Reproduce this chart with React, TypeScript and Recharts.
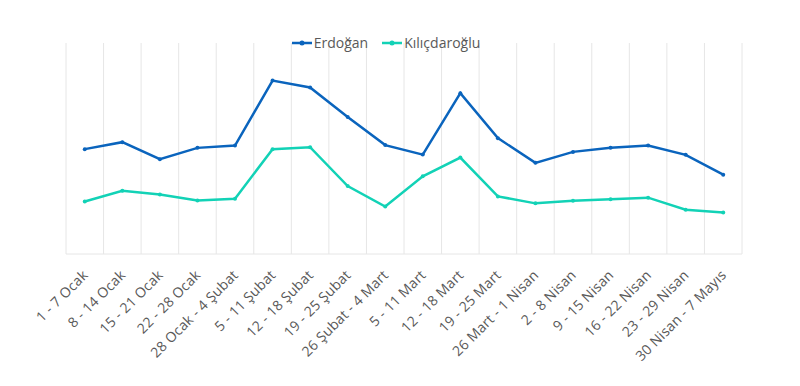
import { LineChart, Line, XAxis, YAxis, CartesianGrid, Legend } from "recharts";

const weeks = [
  "1 - 7 Ocak",
  "8 - 14 Ocak",
  "15 - 21 Ocak",
  "22 - 28 Ocak",
  "28 Ocak - 4 Şubat",
  "5 - 11 Şubat",
  "12 - 18 Şubat",
  "19 - 25 Şubat",
  "26 Şubat - 4 Mart",
  "5 - 11 Mart",
  "12 - 18 Mart",
  "19 - 25 Mart",
  "26 Mart - 1 Nisan",
  "2 - 8 Nisan",
  "9 - 15 Nisan",
  "16 - 22 Nisan",
  "23 - 29 Nisan",
  "30 Nisan - 7 Mayıs",
];

const erdogan = [49.7, 53.0, 44.9, 50.3, 51.4, 82.2, 78.9, 64.9, 51.6, 47.1, 76.2, 54.9, 43.2, 48.4, 50.3, 51.4, 47.0, 37.6];
const kilicdaroglu = [24.9, 30.0, 28.2, 25.4, 26.2, 49.7, 50.6, 32.2, 22.5, 36.8, 45.7, 27.3, 24.0, 25.2, 25.9, 26.7, 21.0, 19.7];

const data = weeks.map((week, i) => ({
  week,
  Erdoğan: erdogan[i],
  Kılıçdaroğlu: kilicdaroglu[i],
}));

const FONT = "'Open Sans', sans-serif";
const HALF_BAND = 676 / weeks.length / 2;

function Tick({ x, y, payload }: any) {
  return (
    <text
      x={x + 4}
      y={y + 14}
      transform={`rotate(-45, ${x + 4}, ${y + 14})`}
      textAnchor="end"
      fill="#595959"
      fontSize={14}
      letterSpacing={0.2}
      fontFamily={FONT}
    >
      {payload.value}
    </text>
  );
}

function LegendBox({ payload }: any) {
  return (
    <div style={{ display: "flex", justifyContent: "center", gap: 14, fontFamily: FONT, fontSize: 14, color: "#595959" }}>
      {payload.map((p: any) => (
        <span key={p.value} style={{ display: "flex", alignItems: "center" }}>
          <svg width={20} height={8} style={{ marginRight: 2 }}>
            <line x1={0} y1={4} x2={20} y2={4} stroke={p.color} strokeWidth={2.5} />
            <circle cx={10} cy={4} r={2.5} fill={p.color} />
          </svg>
          {p.value}
        </span>
      ))}
    </div>
  );
}

export default function App() {
  return (
    <div style={{ position: "absolute", left: 0, top: 0, background: "#fff" }}>
      <LineChart width={800} height={386} data={data} margin={{ top: 24, right: 58, bottom: 12, left: 66 }}>
        <CartesianGrid
          horizontal={false}
          stroke="#e6e6e6"
          verticalCoordinatesGenerator={({ offset }: any) =>
            weeks.map((_, i) => offset.left + (i * offset.width) / weeks.length).concat(offset.left + offset.width)
          }
        />
        <XAxis
          dataKey="week"
          interval={0}
          height={120}
          tickLine={false}
          padding={{ left: HALF_BAND, right: HALF_BAND }}
          axisLine={{ stroke: "#e6e6e6" }}
          tick={<Tick />}
        />
        <YAxis hide domain={[0, 100]} />
        <Legend verticalAlign="top" content={<LegendBox />} wrapperStyle={{ top: 33, left: -14, width: 800 }} />
        <Line
          dataKey="Erdoğan"
          stroke="#0a64bd"
          strokeWidth={2.5}
          dot={{ r: 2, fill: "#0a64bd", strokeWidth: 0 }}
          isAnimationActive={false}
        />
        <Line
          dataKey="Kılıçdaroğlu"
          stroke="#12d2b6"
          strokeWidth={2.5}
          dot={{ r: 2, fill: "#12d2b6", strokeWidth: 0 }}
          isAnimationActive={false}
        />
      </LineChart>
    </div>
  );
}
